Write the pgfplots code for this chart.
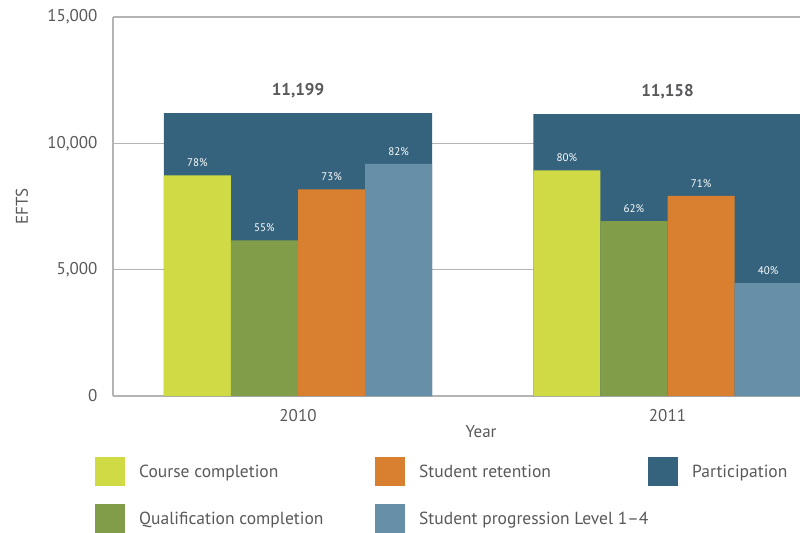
\documentclass[border=0pt]{standalone}
\usepackage{pgfplots}
\pgfplotsset{compat=1.18}
\usepackage{fontspec}
\setmainfont{PT Sans}
\setsansfont{PT Sans}

\definecolor{ccourse}{HTML}{CFDA44}
\definecolor{cqual}{HTML}{829D4A}
\definecolor{cret}{HTML}{D98030}
\definecolor{cprog}{HTML}{678FA8}
\definecolor{cpart}{HTML}{35637D}
\definecolor{txt}{HTML}{58595B}
\definecolor{gridc}{HTML}{B4B4B4}

\begin{document}
\begin{tikzpicture}
\begin{axis}[
name=ax,
width=687bp,height=379bp,scale only axis,
xmin=-0.5007,xmax=1.3586,ymin=0,ymax=15000,
axis x line*=bottom,axis y line*=left,
axis line style={gridc,line width=1.1bp,-},
ymajorgrids=true,major grid style={gridc,line width=1.1bp},
xtick={0,1},xticklabels={2010,2011},
ytick={0,5000,10000,15000},
major tick length=0pt,
scaled ticks=false,
/pgf/number format/assume math mode=true,
/pgf/number format/1000 sep={,},
tick label style={font=\fontsize{17bp}{19bp}\selectfont,text=txt},
xticklabel style={yshift=-10bp},
yticklabel style={xshift=-12bp},
xlabel={Year},ylabel={EFTS},
every axis x label/.style={at={(axis description cs:0.5357,-0.095)},anchor=center,
  font=\fontsize{17bp}{19bp}\selectfont,text=txt},
every axis y label/.style={at={(axis description cs:-0.1325,0.5)},rotate=90,anchor=center,
  font=\fontsize{17bp}{19bp}\selectfont,text=txt},
ybar,
legend columns=3,
legend cell align=left,
legend image code/.code={\fill[#1,draw=none] (0bp,-14.5bp) rectangle (30bp,14.5bp);},
legend style={at={(axis description cs:-0.0262,-0.161)},anchor=north west,
  draw=none,fill=none,inner sep=0pt,nodes={inner sep=0pt},
  column sep=0pt,row sep=18bp,
  font=\fontsize{17.5bp}{19bp}\selectfont,text=txt},
]
% participation (behind)
\addplot[forget plot,fill=cpart,draw=none,bar width=0.726,bar shift=0,
  point meta=y,nodes near coords,
  every node near coord/.append style={font=\fontsize{17bp}{19bp}\bfseries,text=txt,yshift=12bp}]
  coordinates {(0,11199) (1,11158)};
% small bars
\pgfplotsset{pct/.style={forget plot,draw=none,bar width=0.1815,
  point meta=explicit symbolic,nodes near coords,
  every node near coord/.append style={font=\fontsize{11bp}{12bp}\selectfont,text=white,yshift=5bp}}}
\addplot[pct,fill=ccourse,bar shift=-0.27225]
  coordinates {(0,8735) [78\%] (1,8926) [80\%]};
\addplot[pct,fill=cqual,bar shift=-0.09075]
  coordinates {(0,6159) [55\%] (1,6918) [62\%]};
\addplot[pct,fill=cret,bar shift=0.09075]
  coordinates {(0,8175) [73\%] (1,7922) [71\%]};
\addplot[pct,fill=cprog,bar shift=0.27225]
  coordinates {(0,9183) [82\%] (1,4463) [40\%]};

\addlegendimage{fill=ccourse,draw=none}
\addlegendentry{\makebox[250bp][l]{\hspace{14bp}Course completion}}
\addlegendimage{fill=cret,draw=none}
\addlegendentry{\makebox[243bp][l]{\hspace{14bp}Student retention}}
\addlegendimage{fill=cpart,draw=none}
\addlegendentry{\hspace{14bp}Participation}
\addlegendimage{fill=cqual,draw=none}
\addlegendentry{\makebox[250bp][l]{\hspace{14bp}Qualification completion}}
\addlegendimage{fill=cprog,draw=none}
\addlegendentry{\makebox[243bp][l]{\hspace{14bp}Student progression Level 1–4}}
\end{axis}
\pgfresetboundingbox
\path (ax.south west) ++(-113bp,-137bp) rectangle ++(800bp,533bp);
\end{tikzpicture}
\end{document}
